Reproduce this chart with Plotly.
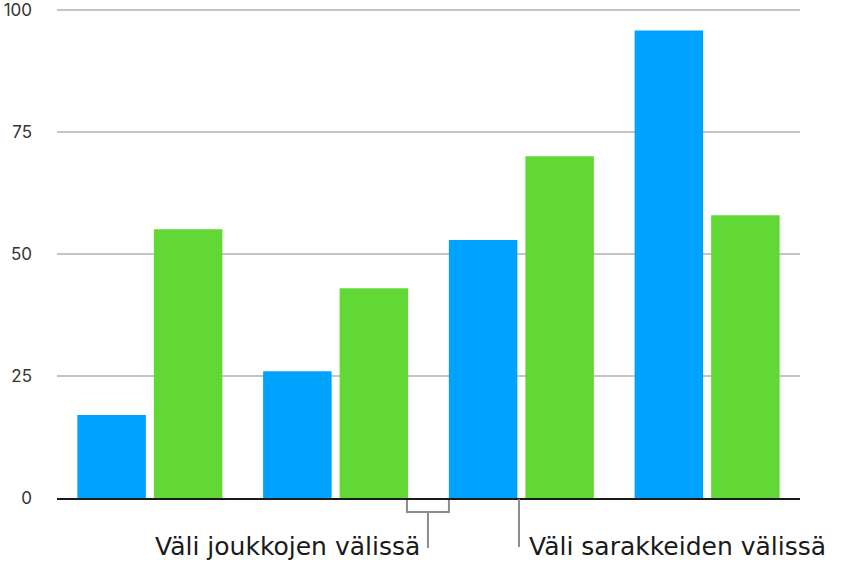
import plotly.graph_objects as go

categories = [0, 1, 2, 3]
blue_values = [17, 26, 52.9, 95.9]
green_values = [55.1, 43, 70.1, 58]
y_ticks = [0, 25, 50, 75, 100]

BLUE = "#00A2FF"
GREEN = "#61D836"
FONT = "Inter, Roboto, Helvetica, Arial, sans-serif"
LABEL_FONT = "DejaVu Sans, Inter, Roboto, sans-serif"

fig = go.Figure()
fig.add_trace(go.Bar(x=categories, y=blue_values, marker=dict(color=BLUE, line=dict(width=0)),
                     showlegend=False, hoverinfo="skip"))
fig.add_trace(go.Bar(x=categories, y=green_values, marker=dict(color=GREEN, line=dict(width=0)),
                     showlegend=False, hoverinfo="skip"))

xr = [-0.5, 3.5]
yr = [0, 100.5]
def px(x):
    return (x - xr[0]) / (xr[1] - xr[0])

top_margin = 10 - 0.5 * 4.88
plot_h = 569 - top_margin - 71
def py(offset_px):
    return -offset_px / plot_h

gray = "#8c8c8c"
shapes = [
    dict(type="path", xref="paper", yref="paper",
         path=f"M {px(1.384)},{py(2)} L {px(1.384)},{py(14)} L {px(1.610)},{py(14)} L {px(1.610)},{py(2)}",
         line=dict(color=gray, width=2)),
    dict(type="line", xref="paper", yref="paper", x0=px(1.497), x1=px(1.497), y0=py(14), y1=py(50),
         line=dict(color=gray, width=2)),
    dict(type="line", xref="paper", yref="paper", x0=px(1.987), x1=px(1.987), y0=py(1), y1=py(49),
         line=dict(color=gray, width=2)),
]

annotations = [
    dict(text="Väli joukkojen välissä", xref="paper", yref="paper", x=px(1.465), y=py(48.2),
         xanchor="right", yanchor="middle", showarrow=False,
         font=dict(family=LABEL_FONT, size=25, color="#1a1a1a")),
    dict(text="Väli sarakkeiden välissä", xref="paper", yref="paper", x=px(2.030), y=py(48.2),
         xanchor="left", yanchor="middle", showarrow=False,
         font=dict(family=LABEL_FONT, size=25, color="#1a1a1a")),
]

fig.update_layout(
    width=846, height=569,
    margin=dict(l=57, r=46, t=top_margin, b=71, autoexpand=False),
    plot_bgcolor="white", paper_bgcolor="white",
    barmode="group", bargap=0.176, bargroupgap=0.105,
    shapes=shapes, annotations=annotations,
    font=dict(family=FONT),
    hovermode=False,
    xaxis=dict(range=xr, showticklabels=False, showgrid=False, zeroline=False, automargin=False,
               showline=True, linecolor="#1a1a1a", linewidth=2, ticks="", fixedrange=True),
    yaxis=dict(range=yr, tickvals=y_ticks, showgrid=True, gridcolor="#c4c4c4", gridwidth=1.5,
               zeroline=False, showline=False, ticklabelstandoff=24, automargin=False,
               ticklabeloverflow="allow", fixedrange=True,
               tickfont=dict(family=FONT, size=17, color="#333333")),
)

fig.write_html("out.html", config={"displayModeBar": False},
               post_script="document.body.style.margin='0';")
